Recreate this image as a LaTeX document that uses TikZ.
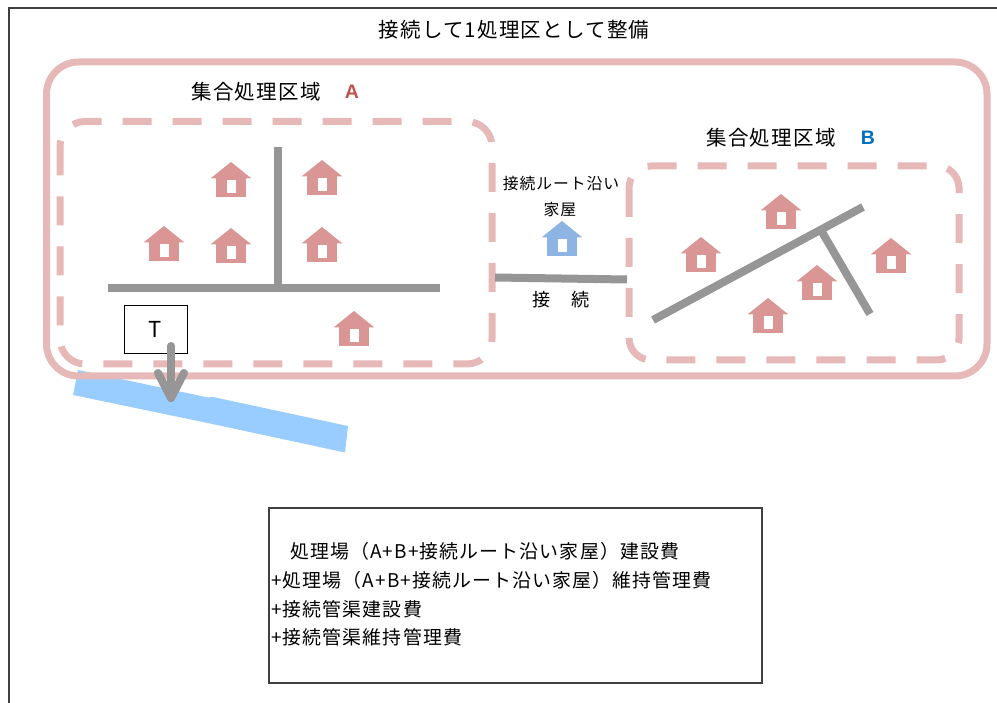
\documentclass[tikz,border=0pt]{standalone}
\usepackage{fontspec}
\setmainfont{Noto Sans CJK JP}[LetterSpace=6]
\newfontfamily\latb{Liberation Sans}
\usetikzlibrary{calc}
\definecolor{pinkl}{HTML}{E6B9B8}
\definecolor{housec}{HTML}{D99694}
\definecolor{bluehouse}{HTML}{8EB4E3}
\definecolor{rivercol}{HTML}{99CCFF}
\definecolor{roadcol}{HTML}{969696}
\definecolor{accA}{HTML}{C0504D}
\definecolor{accB}{HTML}{0070C0}
\definecolor{framecol}{HTML}{404040}
\tikzset{
  pics/house/.style={code={
    \fill[#1] (-20.5,16.5) -- (0,0) -- (20.5,16.5) -- cycle;
    \fill[#1] (-15,16) rectangle (15,35);
    \fill[white] (-4.3,18) rectangle (5,30.7);
  }},
  pics/house/.default=housec,
  pinksolid/.style={draw=pinkl, line width=7pt},
  pinkdash/.style={draw=pinkl, line width=7pt, dash pattern=on 29pt off 21pt},
  roadline/.style={draw=roadcol, line width=8pt},
  arrowline/.style={draw=roadcol, line width=8pt, line cap=round, line join=round},
  bigtxt/.style={inner sep=0pt, font=\fontsize{20.5}{24}\selectfont},
  smalltxt/.style={inner sep=0pt, font=\fontsize{15.8}{18}\selectfont},
  costtxt/.style={inner sep=0pt, anchor=west, font=\fontsize{18.9}{22}\selectfont},
  lettertxt/.style={inner sep=0pt, font=\latb\bfseries\fontsize{19.5}{22}\selectfont},
}
\begin{document}
\begin{tikzpicture}[x=1pt, y=-1pt]
\useasboundingbox (0,0) rectangle (997,703);
% frame
\draw[framecol, line width=1.3pt] (9,703) -- (9,8) -- (997,8);
\node[bigtxt] (title) at (514,30) {接続して1処理区として整備};
% river
\fill[rivercol] (78,370) -- (208,397.5) -- (213,397) -- (348,426) -- (345,452.5) -- (210,423.5) -- (73,395) -- cycle;
% outer rounded region
\draw[pinksolid, rounded corners=32pt] (46.5,62) rectangle (987,376);
% dashed areas
\draw[pinkdash, rounded corners=25pt] (60,121.5) rectangle (492,364);
\draw[pinkdash, rounded corners=22pt] (629,166) rectangle (959,360);
% labels
\node[bigtxt] (labelA) at (256,92) {集合処理区域};
\node[lettertxt, text=accA] (letterA) at (352,92) {A};
\node[bigtxt] (labelB) at (771,138) {集合処理区域};
\node[lettertxt, text=accB] (letterB) at (868,138) {B};
\node[smalltxt] (route1) at (561,183) {接続ルート沿い};
\node[smalltxt] (route2) at (560,210) {家屋};
\node[inner sep=0pt, font=\fontsize{18.1}{20}\selectfont] (conn) at (561,300) {接　続};
% roads in A
\draw[roadline] (108,288) -- (440,288);
\draw[roadline] (277.5,147) -- (277.5,288);
% connecting road
\draw[roadline] (495,277.5) -- (627,279.5);
% roads in B
\draw[roadline] (653,320) -- (863,207);
\draw[roadline] (822,232) -- (870,314);
% houses A
\pic at (231,162) {house};
\pic at (322,160) {house};
\pic at (164,226) {house};
\pic at (231,228) {house};
\pic at (322,227) {house};
\pic at (354,311) {house};
% route house
\pic at (562,221) {house=bluehouse};
% houses B
\pic at (781,194) {house};
\pic at (701,237) {house};
\pic at (891,238) {house};
\pic at (817,265) {house};
\pic at (768,298) {house};
% treatment plant
\node[draw=black, line width=0.9pt, fill=white, minimum width=63pt, minimum height=48pt, inner sep=0pt,
      font=\fontsize{22}{24}\selectfont] (tbox) at (155.5,329) {T};
\coordinate (arrowstart) at (171,346);
\coordinate (arrowtip) at (171,398);
\draw[arrowline] (arrowstart) -- (arrowtip);
\draw[arrowline] ($(arrowtip)+(-13,-25)$) -- (arrowtip) -- ($(arrowtip)+(13,-25)$);
% cost box
\node[draw=framecol, line width=1.1pt, minimum width=493pt, minimum height=175pt, inner sep=0pt] (costbox) at (515.5,595.5) {};
\node[costtxt] (cost1) at (290,551) {処理場（A+B+接続ルート沿い家屋）建設費};
\node[costtxt] (cost2) at (271,580) {+処理場（A+B+接続ルート沿い家屋）維持管理費};
\node[costtxt] (cost3) at (271,609) {+接続管渠建設費};
\node[costtxt] (cost4) at (271,637) {+接続管渠維持管理費};
\end{tikzpicture}
\end{document}
